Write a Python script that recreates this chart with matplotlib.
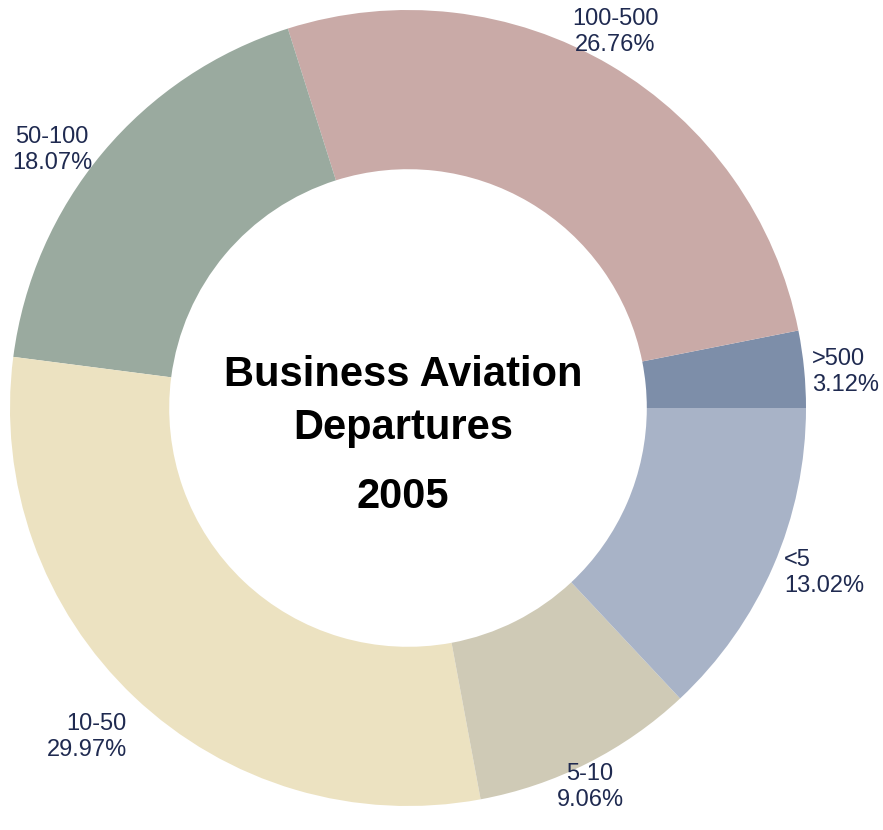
import matplotlib
matplotlib.use("Agg")
import matplotlib.pyplot as plt

categories = [">500", "100-500", "50-100", "10-50", "5-10", "<5"]
shares = [3.12, 26.76, 18.07, 29.97, 9.06, 13.02]
colors = ["#7d8ea9", "#c9aaa7", "#9aaa9f", "#ece2c1", "#cfcab6", "#a8b3c7"]
title_lines = ["Business Aviation", "Departures", "2005"]

W, H = 883, 830
fig = plt.figure(figsize=(W / 100, H / 100), dpi=100)
ax = fig.add_axes([0, 0, 1, 1])

cx, cy = 408, H - 408
R = 398
ax.pie(shares, colors=colors, startangle=0, counterclock=True,
       center=(cx, cy), radius=R, frame=True,
       wedgeprops=dict(width=R * 0.40, edgecolor="none", linewidth=0))
ax.set_xlim(0, W)
ax.set_ylim(0, H)
ax.set_aspect("equal")
ax.axis("off")

font = "Liberation Sans"
lab_color = "#1f2a50"
# (x, y from top, ha)
label_pos = {
    ">500": (812, 372, "left"),
    "100-500": (615, 32, "center"),
    "50-100": (52, 150, "center"),
    "10-50": (127, 737, "right"),
    "5-10": (590, 787, "center"),
    "<5": (784, 573, "left"),
}
for cat, val in zip(categories, shares):
    x, y, ha = label_pos[cat]
    ax.text(x, H - y, f"{cat}\n{val:.2f}%", ha=ha, va="center",
            multialignment=ha, fontsize=17, color=lab_color,
            family=font, linespacing=1.2)

ax.text(403, H - 375, title_lines[0], ha="center", va="center",
        fontsize=30, fontweight="bold", family=font, color="black")
ax.text(403, H - 428, title_lines[1], ha="center", va="center",
        fontsize=30, fontweight="bold", family=font, color="black")
ax.text(403, H - 497, title_lines[2], ha="center", va="center",
        fontsize=30, fontweight="bold", family=font, color="black")

fig.savefig("out.png", dpi=100, facecolor="white")
